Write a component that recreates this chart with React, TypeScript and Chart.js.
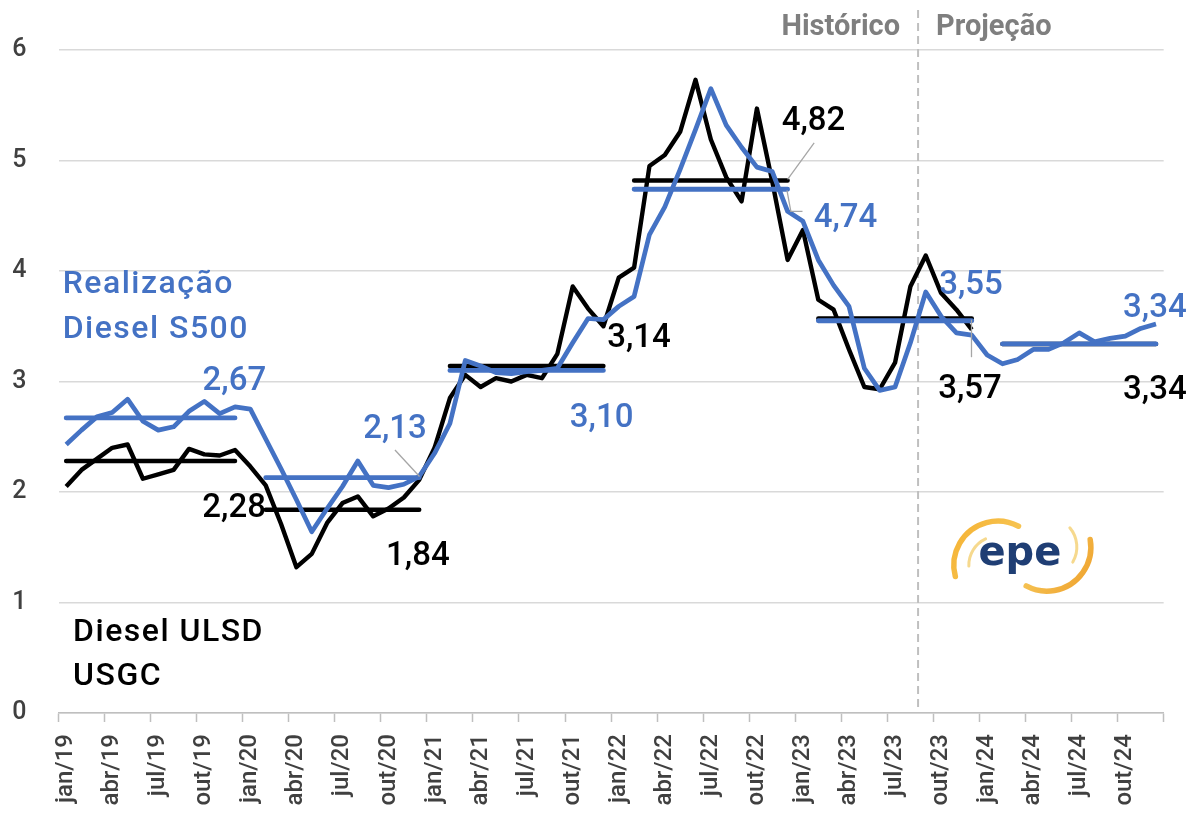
import React, { useEffect, useRef } from 'react';
import { Chart, registerables } from 'chart.js';

Chart.register(...registerables);

const months = ['jan', 'fev', 'mar', 'abr', 'mai', 'jun', 'jul', 'ago', 'set', 'out', 'nov', 'dez'];
const years = ['19', '20', '21', '22', '23', '24'];
const categories = years.flatMap((y) => months.map((m) => `${m}/${y}`));

// Diesel ULSD USGC (monthly, history only)
const ulsdUSGC: (number | null)[] = [
  2.05, 2.20, 2.30, 2.40, 2.43, 2.12, 2.16, 2.20, 2.39, 2.34, 2.33, 2.38,
  2.23, 2.06, 1.71, 1.32, 1.44, 1.72, 1.90, 1.96, 1.78, 1.85, 1.95, 2.11,
  2.40, 2.85, 3.06, 2.95, 3.03, 3.00, 3.06, 3.03, 3.25, 3.86, 3.66, 3.50,
  3.94, 4.03, 4.95, 5.05, 5.26, 5.73, 5.19, 4.85, 4.63, 5.47, 4.81, 4.10,
  4.37, 3.74, 3.65, 3.29, 2.95, 2.93, 3.17, 3.86, 4.14, 3.80, 3.65, 3.47,
  null, null, null, null, null, null, null, null, null, null, null, null,
];

// Realização Diesel S500 (monthly)
const realizacaoS500: number[] = [
  2.43, 2.56, 2.68, 2.72, 2.84, 2.64, 2.56, 2.59, 2.73, 2.82, 2.71, 2.77,
  2.75, 2.48, 2.21, 1.93, 1.64, 1.85, 2.05, 2.28, 2.06, 2.04, 2.07, 2.14,
  2.35, 2.62, 3.19, 3.14, 3.08, 3.07, 3.09, 3.10, 3.12, 3.35, 3.57, 3.56,
  3.68, 3.77, 4.33, 4.58, 4.92, 5.28, 5.65, 5.32, 5.12, 4.94, 4.90, 4.54,
  4.45, 4.10, 3.87, 3.68, 3.12, 2.92, 2.95, 3.35, 3.81, 3.59, 3.44, 3.42,
  3.24, 3.16, 3.20, 3.29, 3.29, 3.35, 3.44, 3.36, 3.39, 3.41, 3.48, 3.52,
];

// Annual averages
const ulsdAnnualAvg = [2.28, 1.84, 3.14, 4.82, 3.57, 3.34];
const s500AnnualAvg = [2.67, 2.13, 3.10, 4.74, 3.55, 3.34];
// first month (within the year) where each average line starts
const avgStartMonth = [0, 1, 1, 1, 1, 1];

const projectionStart = 56; // set/23
const yTicks = [0, 1, 2, 3, 4, 5, 6];

// label anchors in data units (category index, value at baseline)
const ulsdLabelIdx = [10.94, 22.91, 37.32, 48.69, 58.88, 70.93];
const ulsdLabelVal = [1.776, 1.339, 3.315, 5.276, 2.85, 2.84];
const s500LabelIdx = [10.96, 21.42, 34.88, 50.77, 58.95, 70.93];
const s500LabelVal = [2.92, 2.486, 2.59, 4.40, 3.79, 3.586];

const BLUE = '#4472C4';
const BLACK = '#000000';
const GRAY_TEXT = '#404040';

const buildAvg = (avgs: number[]) =>
  categories.map((_, i) => {
    const yr = Math.floor(i / 12);
    const m = i % 12;
    return m >= avgStartMonth[yr] ? avgs[yr] : null;
  });

const fmt = (v: number) => v.toFixed(2).replace('.', ',');

const overlayPlugin = {
  id: 'overlay',
  beforeDatasetsDraw(chart: any) {
    const { ctx, scales } = chart;
    const x = scales.x;
    const y = scales.y;
    const dx = x.getPixelForValue(projectionStart - 0.5);
    ctx.save();
    ctx.strokeStyle = '#bfbfbf';
    ctx.lineWidth = 2;
    ctx.setLineDash([8, 5]);
    ctx.beginPath();
    ctx.moveTo(dx, y.getPixelForValue(6) - 40);
    ctx.lineTo(dx, y.getPixelForValue(0));
    ctx.stroke();
    ctx.setLineDash([]);

    // epe logo
    const lx = x.getPixelForValue(62.13);
    const ly = y.getPixelForValue(1.42);
    ctx.lineCap = 'round';
    const grad = ctx.createLinearGradient(lx - 60, ly - 40, lx + 70, ly + 40);
    grad.addColorStop(0, '#f5b335');
    grad.addColorStop(0.5, '#f7c95a');
    grad.addColorStop(1, '#eea02c');
    ctx.strokeStyle = grad;
    ctx.lineWidth = 5.5;
    ctx.beginPath();
    ctx.arc(lx - 22, ly + 9, 44, (165 * Math.PI) / 180, (298 * Math.PI) / 180);
    ctx.stroke();
    ctx.beginPath();
    ctx.arc(lx + 27, ly - 9, 44, (-10 * Math.PI) / 180, (118 * Math.PI) / 180);
    ctx.stroke();
    ctx.strokeStyle = '#f6d98e';
    ctx.lineWidth = 3;
    ctx.beginPath();
    ctx.arc(lx - 22, ly + 9, 29, (178 * Math.PI) / 180, (245 * Math.PI) / 180);
    ctx.stroke();
    ctx.beginPath();
    ctx.arc(lx + 27, ly - 9, 30, (-40 * Math.PI) / 180, (30 * Math.PI) / 180);
    ctx.stroke();
    ctx.fillStyle = '#1f3e74';
    ctx.font = 'bold 40px "DejaVu Sans"';
    ctx.textAlign = 'center';
    ctx.textBaseline = 'alphabetic';
    ctx.fillText('epe', lx, ly + 9);
    ctx.restore();
  },
  afterDatasetsDraw(chart: any) {
    const { ctx, scales } = chart;
    const x = scales.x;
    const y = scales.y;
    const px = (i: number) => x.getPixelForValue(i);
    const py = (v: number) => y.getPixelForValue(v);
    ctx.save();

    // leader lines
    ctx.strokeStyle = '#a6a6a6';
    ctx.lineWidth = 1.3;
    const leaders: [number, number][][] = [
      [[21.42, 2.38], [23.02, 2.14]],
      [[48.73, 5.16], [47.0, 4.83]],
      [[46.96, 4.73], [47.21, 4.54], [47.97, 4.54]],
      [[58.98, 3.56], [58.98, 3.22]],
    ];
    leaders.forEach((pts) => {
      ctx.beginPath();
      pts.forEach(([i, v], k) => (k === 0 ? ctx.moveTo(px(i), py(v)) : ctx.lineTo(px(i), py(v))));
      ctx.stroke();
    });

    // value labels
    ctx.font = '500 33px Roboto';
    ctx.textAlign = 'center';
    ctx.textBaseline = 'alphabetic';
    ulsdAnnualAvg.forEach((v, k) => {
      ctx.fillStyle = BLACK;
      ctx.fillText(fmt(v), px(ulsdLabelIdx[k]), py(ulsdLabelVal[k]));
    });
    s500AnnualAvg.forEach((v, k) => {
      ctx.fillStyle = BLUE;
      ctx.fillText(fmt(v), px(s500LabelIdx[k]), py(s500LabelVal[k]));
    });

    // series names
    ctx.textAlign = 'left';
    ctx.font = '500 32px Roboto';
    (ctx as any).letterSpacing = '1.5px';
    ctx.fillStyle = BLUE;
    ctx.fillText('Realização', px(-0.23), py(3.8));
    ctx.fillText('Diesel S500', px(-0.23), py(3.39));
    ctx.fillStyle = BLACK;
    ctx.fillText('Diesel ULSD', px(0.45), py(0.654));
    ctx.fillText('USGC', px(0.45), py(0.253));
    (ctx as any).letterSpacing = '0px';

    // Histórico / Projeção
    const dx = px(projectionStart - 0.5);
    ctx.font = 'bold 29px Roboto';
    ctx.fillStyle = '#7f7f7f';
    ctx.textAlign = 'right';
    ctx.fillText('Histórico', dx - 18, py(6) - 15);
    ctx.textAlign = 'left';
    ctx.fillText('Projeção', dx + 18, py(6) - 15);
    ctx.restore();
  },
};

export default function App() {
  const ref = useRef<HTMLCanvasElement | null>(null);
  useEffect(() => {
    if (!ref.current) return;
    const chart = new Chart(ref.current, {
      type: 'line',
      data: {
        labels: categories,
        datasets: [
          {
            label: 'Média Realização S500',
            data: buildAvg(s500AnnualAvg),
            borderColor: BLUE,
            borderWidth: 4.8,
            borderCapStyle: 'round',
            pointRadius: 0,
            spanGaps: false,
          },
          {
            label: 'Realização Diesel S500',
            data: realizacaoS500,
            borderColor: BLUE,
            borderWidth: 4.7,
            borderJoinStyle: 'round',
            pointRadius: 0,
            tension: 0,
          },
          {
            label: 'Média Diesel ULSD',
            data: buildAvg(ulsdAnnualAvg),
            borderColor: BLACK,
            borderWidth: 4.5,
            borderCapStyle: 'round',
            pointRadius: 0,
            spanGaps: false,
          },
          {
            label: 'Diesel ULSD USGC',
            data: ulsdUSGC,
            borderColor: BLACK,
            borderWidth: 4.4,
            borderJoinStyle: 'round',
            pointRadius: 0,
            tension: 0,
            spanGaps: false,
          },
        ],
      },
      options: {
        animation: false,
        responsive: false,
        events: [],
        layout: { padding: { top: 50, right: 30, left: 0, bottom: 0 } },
        plugins: { legend: { display: false }, tooltip: { enabled: false } },
        scales: {
          x: {
            type: 'category',
            offset: true,
            grid: {
              display: true,
              offset: true,
              drawOnChartArea: false,
              drawTicks: true,
              tickLength: 9,
              tickWidth: 1.5,
              tickColor: (c: any) =>
                c.index === undefined || c.index % 3 === 0 ? '#bfbfbf' : 'rgba(0,0,0,0)',
            },
            border: { display: true, color: '#bfbfbf', width: 1.5 },
            ticks: {
              autoSkip: false,
              maxRotation: 90,
              minRotation: 90,
              padding: 12,
              color: GRAY_TEXT,
              font: { family: 'Roboto', size: 24, weight: '500' },
              callback: (_v: any, i: number) => (i % 3 === 0 ? categories[i] : ''),
            },
            afterFit: (s: any) => {
              s.height = 102;
            },
          },
          y: {
            min: yTicks[0],
            max: yTicks[yTicks.length - 1],
            afterBuildTicks: (s: any) => {
              s.ticks = yTicks.map((v) => ({ value: v }));
            },
            ticks: {
              padding: 32,
              color: GRAY_TEXT,
              font: { family: 'Roboto', size: 25, weight: '500' },
              callback: (v: any) => String(v),
            },
            grid: { color: '#d9d9d9', lineWidth: 1.5, drawTicks: false },
            border: { display: false },
            afterFit: (s: any) => {
              s.width = 58.5;
            },
          },
        },
      },
      plugins: [overlayPlugin],
    } as any);
    return () => chart.destroy();
  }, []);
  return (
    <div style={{ position: 'fixed', left: 0, top: 0, width: 1197, height: 815, background: '#fff' }}>
      <canvas ref={ref} width={1197} height={815} style={{ width: 1197, height: 815, display: 'block' }} />
    </div>
  );
}
